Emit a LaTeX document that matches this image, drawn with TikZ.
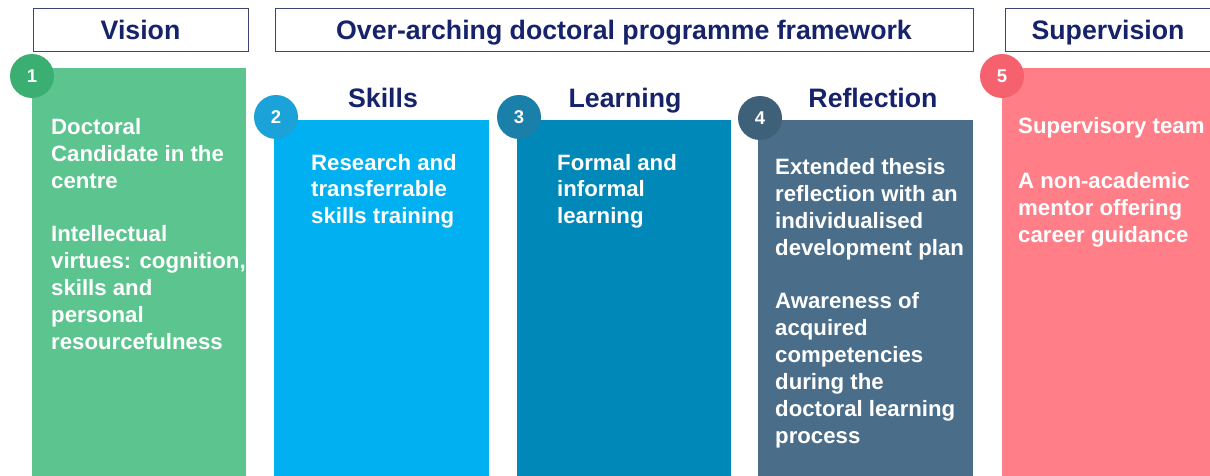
\documentclass[tikz,border=0pt]{standalone}
\usepackage{fontspec}
\setmainfont{Liberation Sans}
\definecolor{navy}{HTML}{16226A}
\definecolor{frame}{HTML}{3C4670}
\definecolor{cgreen}{HTML}{5CC48E}
\definecolor{cgreenD}{HTML}{3BAF72}
\definecolor{cblue}{HTML}{00B0F0}
\definecolor{cblueD}{HTML}{1AA2D9}
\definecolor{cteal}{HTML}{0088B8}
\definecolor{ctealD}{HTML}{1A7FA9}
\definecolor{cslate}{HTML}{4A6E8A}
\definecolor{cslateD}{HTML}{3E6079}
\definecolor{cpink}{HTML}{FF7E88}
\definecolor{cpinkD}{HTML}{F5616D}
% paragraph whose baseline is that of its first line
\newcommand{\toppar}[1]{\parbox[t]{220pt}{\raggedright #1}}
\tikzset{
  headbox/.style={draw=frame, line width=0.9pt, fill=white},
  headtext/.style={text=navy, font=\bfseries\fontsize{26.7}{30}\selectfont, inner sep=0pt, anchor=base},
  coltitle/.style={text=navy, font=\bfseries\fontsize{26.7}{30}\selectfont, inner sep=0pt, anchor=base},
  numdot/.style={circle, minimum size=44pt, inner sep=0pt, text=white, font=\bfseries\fontsize{18.5}{20}\selectfont},
  bodytext/.style={text=white, font=\bfseries\fontsize{22.2}{27}\selectfont, anchor=base west, inner sep=0pt}
}
\begin{document}
\begin{tikzpicture}[x=1pt,y=-1pt]
\useasboundingbox (0,0) rectangle (1210,476);
\clip (0,0) rectangle (1210,476);

% header boxes
\draw[headbox] (33,8) rectangle (248,51);
\node[headtext] (hvision) at (140.5,40) {Vision};
\draw[headbox] (275,8) rectangle (973,51);
\node[headtext] (hframe) at (624,39.5) {Over-arching doctoral programme framework};
\draw[headbox] (1005,8) rectangle (1220,51);
\node[headtext] (hsup) at (1108,39.5) {Supervision};

% column bars
\fill[cgreen] (32,68) rectangle (246,476);
\fill[cblue]  (274,120) rectangle (489,476);
\fill[cteal]  (517,120) rectangle (731,476);
\fill[cslate] (758,120) rectangle (973,476);
\fill[cpink]  (1002,68) rectangle (1220,476);

% column titles
\node[coltitle] (tskills) at (383,108) {Skills};
\node[coltitle] (tlearn) at (625,108) {Learning};
\node[coltitle] (trefl) at (873,108) {Reflection};

% numbered dots
\node[numdot, fill=cgreenD] (n1) at (32,76) {1};
\node[numdot, fill=cblueD]  (n2) at (276,117) {2};
\node[numdot, fill=ctealD]  (n3) at (519,117) {3};
\node[numdot, fill=cslateD] (n4) at (760,118) {4};
\node[numdot, fill=cpinkD]  (n5) at (1002,76) {5};

% body texts
\node[bodytext] (v1) at (51,135) {\toppar{Doctoral\\Candidate in the\\centre}};
\node[bodytext] (v2) at (51,241) {\toppar{Intellectual\\virtues: cognition,\\skills and\\personal\\resourcefulness}};
\node[bodytext] (s1) at (311,170) {\toppar{Research and\\transferrable\\skills training}};
\node[bodytext] (l1) at (557,170) {\toppar{Formal and\\informal\\learning}};
\node[bodytext] (r1) at (775,175) {\toppar{Extended thesis\\reflection with an\\individualised\\development plan}};
\node[bodytext] (r2) at (775,308) {\toppar{Awareness of\\acquired\\competencies\\during the\\doctoral learning\\process}};
\node[bodytext] (p1) at (1018,134) {\toppar{Supervisory team}};
\node[bodytext] (p2) at (1018,188) {\toppar{A non-academic\\mentor offering\\career guidance}};
\end{tikzpicture}
\end{document}
